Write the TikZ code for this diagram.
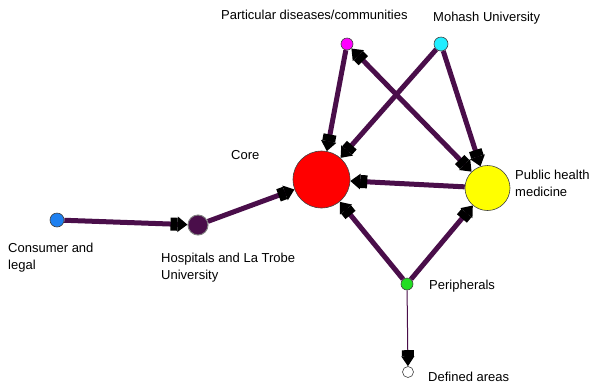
\documentclass[tikz,border=0pt]{standalone}
\usepackage{fontspec}
\setmainfont{Liberation Sans}
\usetikzlibrary{arrows.meta}
\definecolor{edgec}{HTML}{4A0E4A}
\definecolor{cblue}{HTML}{1E80F0}
\definecolor{cgreen}{HTML}{22DD22}
\definecolor{cmag}{HTML}{FF00FF}
\definecolor{ccyan}{HTML}{22EEFF}
\definecolor{cyel}{HTML}{FFFF00}
\definecolor{cred}{HTML}{FF0000}
\tikzset{
  vertex/.style={circle, draw=black!75, line width=0.6pt, inner sep=0pt, minimum size=#1},
  vertex/.default=12,
  lbl/.style={anchor=north west, inner sep=0pt, align=left, font=\fontsize{13}{16.8}\selectfont},
  headtip/.style={-{Rectangle[length=7pt,width=13pt,sep=0pt,color=black] Triangle[length=10pt,width=15pt,color=black]}},
  link/.style={draw=edgec, line width=5pt, headtip},
  twolink/.style={draw=edgec, line width=5pt, {Triangle[length=10pt,width=15pt,color=black] Rectangle[length=7pt,width=13pt,sep=0pt,color=black]}-{Rectangle[length=7pt,width=13pt,sep=0pt,color=black] Triangle[length=10pt,width=15pt,color=black]}},
  thinlink/.style={draw=edgec, line width=1pt, -{Rectangle[length=6pt,width=12pt,sep=0pt,color=black] Triangle[length=10pt,width=13pt,color=black]}}
}
\begin{document}
\begin{tikzpicture}[x=1pt,y=-1pt]
\useasboundingbox (0,0) rectangle (589,384);
% nodes
\node[vertex=57, fill=cred] (core) at (321.5,179.5) {};
\node[vertex=45, fill=cyel] (ph) at (487.5,188) {};
\node[vertex=12, fill=cmag] (part) at (347,44) {};
\node[vertex=14, fill=ccyan] (mon) at (441,44) {};
\node[vertex=14, fill=cblue] (cons) at (57,220) {};
\node[circle, draw=gray, line width=1pt, fill=edgec, inner sep=0pt, minimum size=20] (hosp) at (198,225) {};
\node[vertex=12, fill=cgreen] (peri) at (407,284) {};
\node[vertex=11, fill=white] (def) at (408,372) {};
% edges
\draw[link] (cons) -- (hosp);
\draw[link] (hosp) -- (core);
\draw[link] (part) -- (core);
\draw[link] (mon) -- (core);
\draw[link] (mon) -- (ph);
\draw[twolink] (part) -- (ph);
\draw[link] (ph) -- (core);
\draw[link] (peri) -- (core);
\draw[link] (peri) -- (ph);
\draw[thinlink] (peri) -- (def);
% labels
\node[lbl] (lpart) at (221,10.3) {Particular diseases/communities};
\node[lbl] (lmon) at (433,12.3) {Mohash University};
\node[lbl] (lcore) at (231,150.3) {Core};
\node[lbl] (lph) at (515,170.3) {Public health\\medicine};
\node[lbl] (lcons) at (8,243.3) {Consumer and\\legal};
\node[lbl] (lhosp) at (161,253.3) {Hospitals and La Trobe\\University};
\node[lbl] (lperi) at (429,280.3) {Peripherals};
\node[lbl] (ldef) at (428,372.3) {Defined areas};
\end{tikzpicture}
\end{document}
